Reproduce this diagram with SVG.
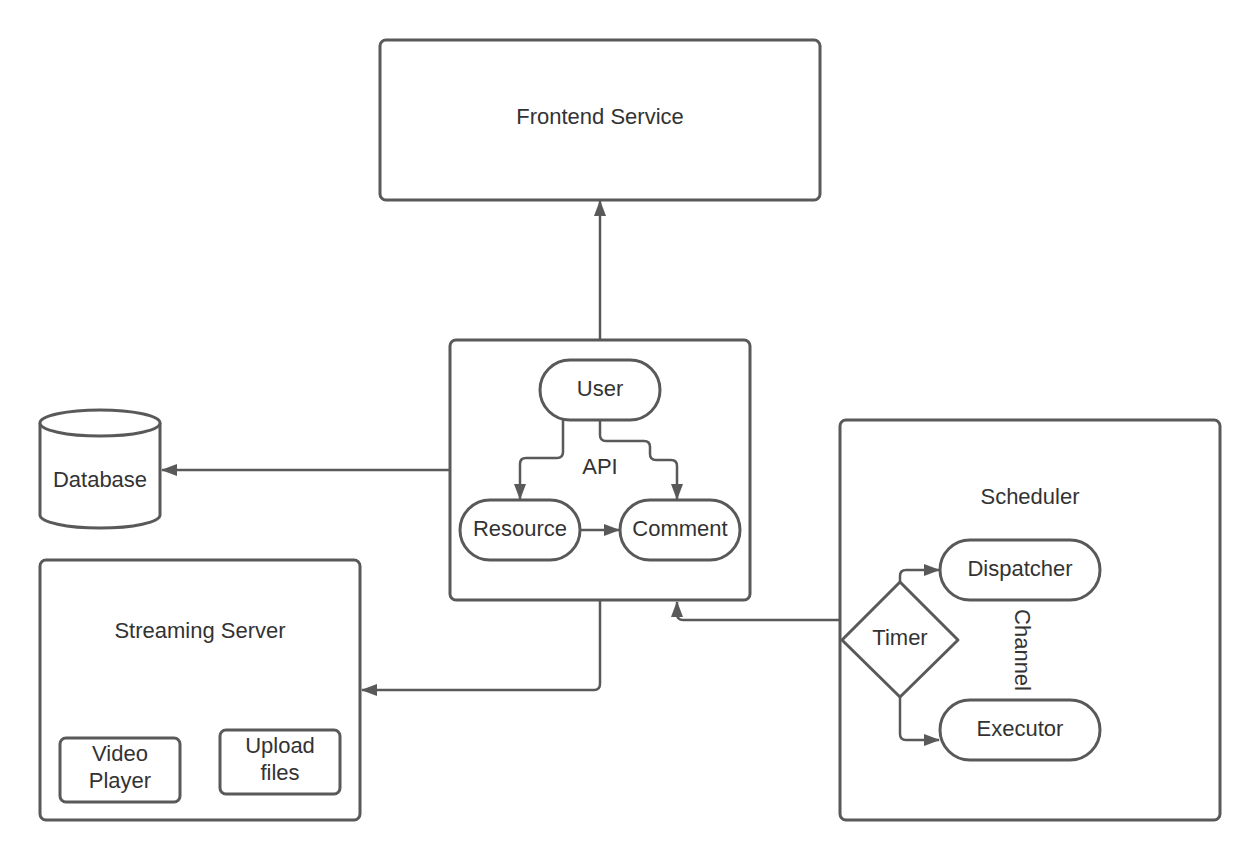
<svg xmlns="http://www.w3.org/2000/svg" width="1260" height="860" viewBox="0 0 1260 860">
<defs>
<marker id="arr" viewBox="0 0 16 12" refX="15" refY="6" markerWidth="16" markerHeight="12" markerUnits="userSpaceOnUse" orient="auto">
<path d="M0,0 L16,6 L0,12 Z" fill="#595959"/>
</marker>
<style>
.box{fill:#fff;stroke:#595959;stroke-width:3}
.ln{fill:none;stroke:#595959;stroke-width:2.5;stroke-linejoin:round}
.t{font-family:"Liberation Sans",Arial,sans-serif;font-size:22px;fill:#333;text-anchor:middle;dominant-baseline:central}
</style>
</defs>
<rect width="1260" height="860" fill="#fff"/>
<g id="frontend">
<rect class="box" x="380" y="40" width="440" height="160" rx="6"/>
<text class="t" x="600" y="116">Frontend Service</text>
</g>
<g id="api">
<rect class="box" x="450" y="340" width="300" height="260" rx="6"/>
<text class="t" x="600" y="466">API</text>
</g>
<g id="streaming">
<rect class="box" x="40" y="560" width="320" height="260" rx="6"/>
<text class="t" x="200" y="630">Streaming Server</text>
</g>
<g id="scheduler">
<rect class="box" x="840" y="420" width="380" height="400" rx="6"/>
<text class="t" x="1030" y="496">Scheduler</text>
<text class="t" x="0" y="0" transform="translate(1022,650) rotate(90)">Channel</text>
</g>
<g id="connectors">
<path class="ln" d="M600,340 V201" marker-end="url(#arr)"/>
<path class="ln" d="M450,470 H162" marker-end="url(#arr)"/>
<path class="ln" d="M600,600 V684 Q600,690 594,690 H362" marker-end="url(#arr)"/>
<path class="ln" d="M840,620 H683 Q677,620 677,614 V602" marker-end="url(#arr)"/>
<path class="ln" d="M563,420 V452 Q563,458 557,458 H526 Q520,458 520,464 V499" marker-end="url(#arr)"/>
<path class="ln" d="M600,420 V435 Q600,441 606,441 H644 Q650,441 650,447 V454 Q650,460 656,460 H671 Q677,460 677,466 V499" marker-end="url(#arr)"/>
<path class="ln" d="M580,530 H619" marker-end="url(#arr)"/>
<path class="ln" d="M900,582 V576 Q900,570 906,570 H939" marker-end="url(#arr)"/>
<path class="ln" d="M900,697 V734 Q900,740 906,740 H939" marker-end="url(#arr)"/>
</g>
<g id="user">
<rect class="box" x="540" y="360" width="120" height="60" rx="30"/>
<text class="t" x="600" y="388">User</text>
</g>
<g id="resource">
<rect class="box" x="460" y="500" width="120" height="60" rx="30"/>
<text class="t" x="520" y="528">Resource</text>
</g>
<g id="comment">
<rect class="box" x="620" y="500" width="120" height="60" rx="30"/>
<text class="t" x="680" y="528">Comment</text>
</g>
<g id="database">
<path class="box" d="M40,423 V515 A60,13 0 0 0 160,515 V423"/>
<ellipse class="box" cx="100" cy="423" rx="60" ry="13"/>
<text class="t" x="100" y="479">Database</text>
</g>
<g id="videoplayer">
<rect class="box" x="60" y="738" width="120" height="64" rx="6"/>
<text class="t" x="120" y="753">Video</text>
<text class="t" x="120" y="780">Player</text>
</g>
<g id="upload">
<rect class="box" x="220" y="730" width="120" height="64" rx="6"/>
<text class="t" x="280" y="745">Upload</text>
<text class="t" x="280" y="772">files</text>
</g>
<g id="dispatcher">
<rect class="box" x="940" y="540" width="160" height="60" rx="30"/>
<text class="t" x="1020" y="568">Dispatcher</text>
</g>
<g id="executor">
<rect class="box" x="940" y="700" width="160" height="60" rx="30"/>
<text class="t" x="1020" y="728">Executor</text>
</g>
<g id="timer">
<path class="box" d="M900,582 L958,640 L900,697 L842,640 Z" stroke-linejoin="round"/>
<text class="t" x="900" y="637">Timer</text>
</g>
</svg>
